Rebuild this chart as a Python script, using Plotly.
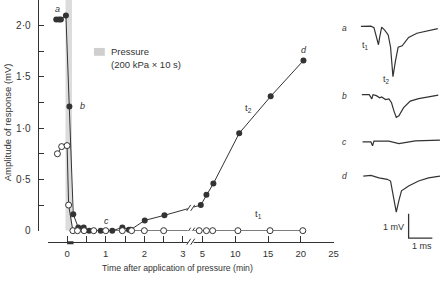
import numpy as np
import plotly.graph_objects as go

W, H = 446, 281

# ---------------- main chart data (time: min, amplitude: mV) ----------------
t2_time = [-0.28, -0.21, -0.16, -0.03, 0.06, 0.16, 0.29, 0.43, 0.57, 0.87, 1.17,
           1.43, 1.6, 1.65, 2.01, 2.52, 4.74, 5.6, 6.66, 10.6, 15.4, 20.4]
t2_amp = [2.06, 2.06, 2.06, 2.10, 1.21, 0.16, 0.03, 0.03, 0.0, 0.0, 0.0,
          0.03, 0.01, 0.01, 0.10, 0.15, 0.25, 0.35, 0.46, 0.95, 1.31, 1.66]
t1_time = [-0.25, -0.14, 0.0, 0.04, 0.15, 0.27, 0.44, 0.69, 1.0, 1.43, 1.67,
           2.0, 2.5, 4.5, 5.6, 6.55, 10.4, 15.3, 20.3]
t1_amp = [0.75, 0.82, 0.83, 0.25, 0.0, 0.0, 0.0, 0.0, 0.0, 0.0, 0.0,
          0.0, 0.0, 0.0, 0.0, 0.0, 0.0, 0.0, 0.0]

x_tick_vals = [0, 1, 2, 3, 5, 10, 15, 20, 25]
x_tick_text = ["0", "1", "2", "3", "5", "10", "15", "20", "25"]
x_minor_vals = [-0.5, 0.5, 1.5, 2.5]
y_tick_vals = [0, 0.5, 1.0, 1.5, 2.0]
y_tick_text = ["0", "0·5", "1·0", "1·5", "2·0"]
y_minor_vals = [0.25, 0.75, 1.25, 1.75, 2.25]

pressure_start = -0.04          # min
pressure_duration = 10 / 60     # 10 s in min

# ---------------- example responses (time: ms, relative mV) ----------------
wave_a_t = [0, 0.42, 0.55, 0.74, 0.79, 0.875, 1.01, 1.15, 1.25, 1.35, 1.46, 1.57,
            1.74, 2.01, 2.36, 2.78, 3.24]
wave_a_v = [0, 0.01, -0.05, -0.75, -0.45, -0.03, -0.16, -0.35, -0.85, -2.05, -1.39,
            -0.85, -0.79, -0.45, -0.28, -0.19, -0.09]
wave_b_t = [0.04, 0.35, 0.46, 0.51, 0.65, 0.79, 0.875, 1.04, 1.18, 1.29, 1.39, 1.49,
            1.6, 1.8, 2.08, 2.43, 2.85, 3.26]
wave_b_v = [0, 0, -0.17, 0, -0.04, -0.13, -0.09, -0.2, -0.17, -0.33, -0.66, -0.93,
            -0.86, -0.53, -0.26, -0.16, -0.09, -0.02]
wave_c_t = [0.07, 0.42, 0.49, 0.55, 1.18, 1.6, 2.29, 3.33]
wave_c_v = [0, 0, -0.16, 0.03, 0.03, -0.07, 0.04, 0.07]
wave_d_t = [0.1, 0.42, 0.76, 1.11, 1.25, 1.35, 1.49, 1.6, 1.71, 2.01, 2.43, 2.85, 3.33]
wave_d_v = [0, 0.03, -0.07, -0.13, -0.2, -0.73, -1.47, -1.0, -0.6, -0.4, -0.2, -0.07, 0]
wave_labels = ["a", "b", "c", "d"]
scale_mv = 1.0
scale_ms = 1.0

# ---------------- broken time axis ----------------
BREAK_AT = 3.2        # axis units where the break sits
RIGHT_START = 5.0     # first minute of right-hand segment
RIGHT_ORIGIN = 3.505  # axis units of RIGHT_START
RIGHT_SCALE = 0.1697  # axis units per minute after the break


def tx(v):
    v = np.asarray(v, dtype=float)
    return np.where(v <= BREAK_AT, v, RIGHT_ORIGIN + (v - RIGHT_START) * RIGHT_SCALE)


def px(x):
    return x / W


def py(y):
    return 1 - y / H


INK = "#333333"
FONT = "Liberation Sans, Arial, sans-serif"

fig = go.Figure()

# main series
fig.add_trace(go.Scatter(x=tx(t2_time), y=t2_amp, mode="lines+markers",
                         line=dict(color=INK, width=1),
                         marker=dict(size=6, color=INK, line=dict(width=0)),
                         cliponaxis=False, showlegend=False))
fig.add_trace(go.Scatter(x=tx(t1_time), y=t1_amp, mode="lines+markers",
                         line=dict(color=INK, width=1),
                         marker=dict(size=6, color="white", line=dict(color=INK, width=1)),
                         cliponaxis=False, showlegend=False))

# pressure band
fig.add_shape(type="rect", xref="x", yref="y", x0=pressure_start,
              x1=pressure_start + pressure_duration, y0=0, y1=2.25,
              fillcolor="#dcdcdc", line=dict(width=0), layer="below")
fig.add_shape(type="rect", xref="x", yref="paper", x0=pressure_start + 0.04,
              x1=pressure_start + 0.04 + pressure_duration,
              y0=py(249.5), y1=py(246.5), fillcolor=INK, line=dict(width=0))

# legend swatch
fig.add_shape(type="rect", xref="paper", yref="paper", x0=px(95), x1=px(106),
              y0=py(57), y1=py(49), fillcolor="#cfcfcf", line=dict(width=0))

# waveforms
offsets = [10.16, 7.37, 5.44, 4.04]
waves = [(wave_a_t, wave_a_v), (wave_b_t, wave_b_v), (wave_c_t, wave_c_v), (wave_d_t, wave_d_v)]
for (wt, wv), off in zip(waves, offsets):
    fig.add_trace(go.Scatter(x=wt, y=[v + off for v in wv], mode="lines",
                             line=dict(color=INK, width=1.2), xaxis="x2", yaxis="y2",
                             showlegend=False, hoverinfo="skip"))
# scale bar
sb_x0, sb_y0 = 2.01, 1.508
fig.add_trace(go.Scatter(x=[sb_x0, sb_x0, sb_x0 + scale_ms],
                         y=[sb_y0 + scale_mv, sb_y0, sb_y0],
                         mode="lines", line=dict(color=INK, width=1.3),
                         xaxis="x2", yaxis="y2", showlegend=False, hoverinfo="skip"))

fig.update_layout(
    width=W, height=H, margin=dict(l=0, r=0, t=0, b=0),
    paper_bgcolor="white", plot_bgcolor="white",
    font=dict(family=FONT, size=9, color=INK),
    xaxis=dict(domain=[px(48.3), px(337.4)], range=[-0.5, float(tx(25))],
               anchor="free", position=py(247), tickmode="array",
               tickvals=tx(x_tick_vals).tolist(), ticktext=x_tick_text,
               ticks="inside", ticklen=6, tickcolor=INK, tickwidth=1,
               minor=dict(tickvals=x_minor_vals, ticks="inside", ticklen=6,
                          tickcolor=INK, showgrid=False),
               showline=True, linecolor=INK, linewidth=1, showgrid=False,
               zeroline=False, tickfont=dict(size=9.5), ticklabelstandoff=3),
    yaxis=dict(domain=[py(235.7), 1], range=[0, 2.25], anchor="free",
               position=px(38), tickmode="array", tickvals=y_tick_vals,
               ticktext=y_tick_text, ticks="inside", ticklen=5, tickcolor=INK,
               minor=dict(tickvals=y_minor_vals, ticks="inside", ticklen=5,
                          tickcolor=INK, showgrid=False),
               showline=True, linecolor=INK, linewidth=1, showgrid=False,
               zeroline=False, tickfont=dict(size=10), ticklabelstandoff=5),
    xaxis2=dict(domain=[px(340), 1], range=[(340 - 365) / 24, (446 - 365) / 24],
                visible=False, anchor="y2"),
    yaxis2=dict(domain=[0, 1], range=[0, H / 25], visible=False, anchor="x2"),
)

ann = []


def T(x, y, text, size=9, italic=False, xanchor="center", **kw):
    t = f"<i>{text}</i>" if italic else text
    ann.append(dict(x=px(x), y=py(y), xref="paper", yref="paper", text=t,
                    showarrow=False, xanchor=xanchor, yanchor="middle",
                    font=dict(size=size, color=INK, family=FONT), **kw))


T(7, 125, "Amplitude of response (mV)", size=9.5, textangle=-90)
T(180, 274, "Time after application of pressure (min)", size=8.7)
T(110, 53, "Pressure", size=9.5, xanchor="left")
T(110, 66, "(200 kPa × 10 s)", size=9.5, xanchor="left")
T(58, 9, "a", italic=True)
T(83, 108, "b", italic=True)
T(108, 226, "c", italic=True)
T(307, 51, "d", italic=True)
T(251, 110, "t<sub>2</sub>", size=9.5)
T(261, 219, "t<sub>1</sub>", size=9.5)
for lab, yy in zip(wave_labels, [29, 98, 145, 180]):
    T(348, yy, lab, italic=True, size=8.5)
T(370, 47, "t<sub>1</sub>", size=9)
T(391, 81, "t<sub>2</sub>", size=9)
T(398, 232, "1 mV", size=9)
T(427, 251, "1 ms", size=9)
fig.update_layout(annotations=ann)

# break marks (white gap + two slanted strokes)
brk_y_t2 = float(np.interp(BREAK_AT, tx(t2_time), t2_amp))
for yv, yref in [(brk_y_t2, "y"), (0.0, "y"), (py(247), "paper")]:
    fig.add_shape(type="rect", xref="x", yref=yref, xsizemode="pixel", ysizemode="pixel",
                  xanchor=BREAK_AT, yanchor=yv, x0=-3, x1=3, y0=-2, y1=2,
                  fillcolor="white", line=dict(width=0))
    for dx in (-2, 2):
        fig.add_shape(type="line", xref="x", yref=yref, xsizemode="pixel",
                      ysizemode="pixel", xanchor=BREAK_AT, yanchor=yv,
                      x0=dx - 2, x1=dx + 2, y0=-3, y1=3,
                      line=dict(color=INK, width=1))

fig.write_html("out.html", config={"displayModeBar": False},
               post_script="document.body.style.margin='0';")
